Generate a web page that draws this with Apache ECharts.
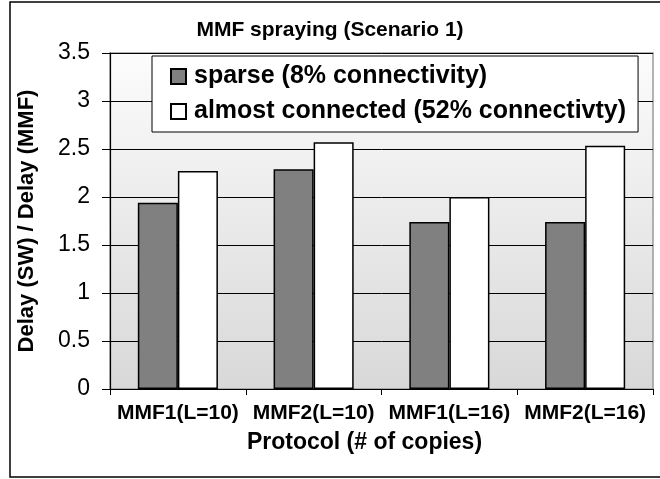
<!DOCTYPE html>
<html>
<head>
<meta charset="utf-8">
<script src="https://cdn.jsdelivr.net/npm/echarts@6/dist/echarts.min.js"></script>
<style>
html,body{margin:0;padding:0;background:#fff;}
#chart{width:660px;height:479px;}
</style>
</head>
<body>
<div id="chart"></div>
<script>
var categories = ['MMF1(L=10)', 'MMF2(L=10)', 'MMF1(L=16)', 'MMF2(L=16)'];
var seriesNames = ['sparse (8% connectivity)', 'almost connected (52% connectivty)'];
var sparseValues = [1.94, 2.29, 1.74, 1.74];
var connectedValues = [2.27, 2.57, 2.00, 2.535];
var yTicks = { min: 0, max: 3.5, interval: 0.5 };

var FONT = 'Liberation Sans, Arial, sans-serif';
var chart = echarts.init(document.getElementById('chart'), null, {renderer: 'canvas'});
chart.setOption({
  animation: false,
  backgroundColor: '#ffffff',
  title: {
    text: 'MMF spraying (Scenario 1)',
    left: 'center',
    top: 15,
    textStyle: { fontFamily: FONT, fontSize: 21, fontWeight: 'bold', color: '#000' }
  },
  graphic: [{
    type: 'rect',
    shape: { x: 10, y: 2, width: 700, height: 475 },
    style: { fill: 'none', stroke: '#000', lineWidth: 1.5 },
    silent: true, z: -1
  }],
  legend: {
    orient: 'vertical',
    left: 152,
    top: 56,
    padding: [8, 12, 8, 18],
    itemGap: 10,
    itemWidth: 15,
    itemHeight: 15,
    backgroundColor: '#ffffff',
    borderColor: '#000',
    borderWidth: 1,
    icon: 'rect',
    textStyle: { fontFamily: FONT, fontSize: 25, fontWeight: 'bold', color: '#000', padding: [0, 0, 0, 3] },
    data: seriesNames
  },
  grid: {
    left: 110, top: 53, right: 7, bottom: 90,
    show: true,
    borderColor: '#9a9a9a',
    borderWidth: 1.5,
    backgroundColor: new echarts.graphic.LinearGradient(0, 0, 0, 1, [
      { offset: 0, color: '#fcfcfc' },
      { offset: 1, color: '#d8d8d8' }
    ])
  },
  xAxis: {
    type: 'category',
    data: categories,
    name: 'Protocol (# of copies)',
    nameLocation: 'middle',
    nameGap: 42,
    nameTextStyle: { fontFamily: FONT, fontSize: 23, fontWeight: 'bold', color: '#000', padding: [0, 34, 0, 0] },
    axisLine: { lineStyle: { color: '#000', width: 1.2 } },
    axisTick: { show: true, length: 6, lineStyle: { color: '#000', width: 1 } },
    axisLabel: { fontFamily: FONT, fontSize: 21, fontWeight: 'bold', color: '#000', margin: 14, interval: 0, hideOverlap: false }
  },
  yAxis: {
    type: 'value',
    min: yTicks.min, max: yTicks.max, interval: yTicks.interval,
    name: 'Delay (SW) / Delay (MMF)',
    nameLocation: 'middle',
    nameGap: 72,
    nameTextStyle: { fontFamily: FONT, fontSize: 22, fontWeight: 'bold', color: '#000' },
    axisLine: { show: true, lineStyle: { color: '#000', width: 1.2 } },
    axisTick: { show: true, length: 8, lineStyle: { color: '#000', width: 1 } },
    axisLabel: { fontFamily: FONT, fontSize: 23, color: '#000', margin: 20 },
    splitLine: { show: true, lineStyle: { color: '#000', width: 1 } }
  },
  series: [
    {
      name: seriesNames[0], type: 'bar', data: sparseValues,
      barGap: '0%', barCategoryGap: '41%',
      itemStyle: { color: '#808080', borderColor: '#000', borderWidth: 1.5 }
    },
    {
      name: seriesNames[1], type: 'bar', data: connectedValues,
      barGap: '0%', barCategoryGap: '41%',
      itemStyle: { color: '#ffffff', borderColor: '#000', borderWidth: 1.5 }
    }
  ]
});
</script>
</body>
</html>
